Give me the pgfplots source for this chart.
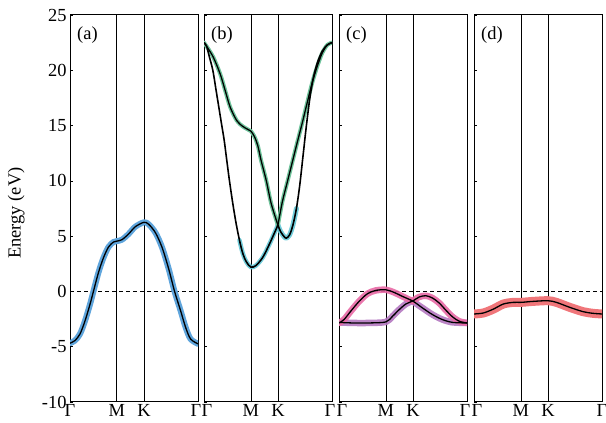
\documentclass[border=0pt]{standalone}
\usepackage{fontspec}
\setmainfont{Liberation Serif}
\usepackage{pgfplots}
\pgfplotsset{compat=1.18}
\definecolor{cA}{RGB}{95,165,220}
\definecolor{cBg}{RGB}{110,195,155}
\definecolor{cBc}{RGB}{100,200,215}
\definecolor{cCp}{RGB}{232,105,165}
\definecolor{cCv}{RGB}{180,120,192}
\definecolor{cD}{RGB}{240,118,122}
\pgfplotsset{
  panel/.style={
    width=128bp, height=387bp, scale only axis, anchor=south west,
    xmin=0, xmax=1, ymin=-10, ymax=25,
    xtick={0,0.366,0.5774,1},
    xmajorgrids, major grid style={black, line width=0.7bp},
    major x tick style={draw=none},
    ytick={-10,-5,...,25}, ytick pos=left, tick align=inside,
    major tick length=3bp, major y tick style={black, line width=0.7bp},
    axis line style={black, line width=1bp},
    tick label style={font=\fontsize{18.5}{20}\selectfont},
    /pgf/number format/assume math mode=true,
    xticklabel style={yshift=1bp},
    label style={font=\fontsize{18.5}{20}\selectfont},
  },
  fat/.style={line width=#1, line cap=round, line join=round, smooth},
  thin/.style={black, line width=1.3bp, smooth},
  zero/.style={black, dashed, line width=0.8bp, dash pattern=on 4bp off 3bp},
}
\newcommand{\plabel}[1]{\node[anchor=north west, inner sep=0pt, font=\fontsize{18.5}{20}\selectfont] at ([xshift=7bp,yshift=-12bp]rel axis cs:0,1) {#1};}
\begin{document}
\begin{tikzpicture}
\useasboundingbox (0,0) rectangle (606bp,423bp);
% (a)
\begin{axis}[panel, at={(70bp,21bp)},
  xticklabels={Γ,M,K,{Γ\hspace*{4bp}}},
  ylabel={Energy (eV)}, ylabel style={at={(axis description cs:-0.42,0.488)}, anchor=center}]
\addplot[zero] coordinates {(0,0) (1,0)};
\addplot[fat=6bp, cA] coordinates {
(0,-4.68) (0.039,-4.44) (0.0785,-3.84) (0.118,-2.64) (0.157,-1.14) (0.183,0) (0.2225,1.71) (0.262,3.06) (0.301,4.02) (0.340,4.47) (0.366,4.55) (0.406,4.68) (0.458,5.2) (0.510,5.85) (0.5774,6.25) (0.615,6.07) (0.668,5.3) (0.720,3.96) (0.772,2.0) (0.817,0) (0.864,-1.74) (0.903,-3.24) (0.942,-4.3) (1,-4.74)};
\addplot[thin] coordinates {
(0,-4.68) (0.039,-4.44) (0.0785,-3.84) (0.118,-2.64) (0.157,-1.14) (0.183,0) (0.2225,1.71) (0.262,3.06) (0.301,4.02) (0.340,4.47) (0.366,4.55) (0.406,4.68) (0.458,5.2) (0.510,5.85) (0.5774,6.25) (0.615,6.07) (0.668,5.3) (0.720,3.96) (0.772,2.0) (0.817,0) (0.864,-1.74) (0.903,-3.24) (0.942,-4.3) (1,-4.74)};
\plabel{(a)}
\end{axis}
% (b)
\begin{axis}[panel, at={(204bp,21bp)}, yticklabels={},
  xticklabels={{\hspace*{6bp}Γ},M,K,{Γ\hspace*{4bp}}}]
\addplot[zero] coordinates {(0,0) (1,0)};
% lower band fat (cyan)
\addplot[fat=4.5bp, cBc, opacity=0.9] coordinates {(0.277,4.64) (0.303,3.44) (0.33,2.69) (0.366,2.2) (0.407,2.35) (0.46,3.1) (0.512,4.3) (0.5774,6.0)};
\addplot[fat=5bp, cBc, opacity=0.9] coordinates {(0.5774,6.0) (0.599,5.4) (0.625,4.97) (0.643,4.82) (0.669,5.12) (0.695,6.02) (0.722,7.5)};
% upper band fat (green)
\addplot[fat=4bp, cBg] coordinates {(0,22.5) (0.03,22.0) (0.074,21.15) (0.127,19.65) (0.166,18.15) (0.205,16.65) (0.256,15.45) (0.30,14.95) (0.335,14.7) (0.366,14.5) (0.394,14.0) (0.420,13.2) (0.446,11.85) (0.486,10.05) (0.525,7.95) (0.5774,6.0)};
\addplot[fat=4bp, cBg] coordinates {(0.5774,6.0) (0.612,8.1) (0.651,9.9) (0.69,11.7) (0.729,13.5) (0.769,15.3) (0.807,17.1) (0.846,18.9) (0.886,20.4) (0.925,21.6) (0.964,22.3) (1,22.5)};
% thin lines
\addplot[thin] coordinates {(0,22.5) (0.03,22.0) (0.074,21.15) (0.127,19.65) (0.166,18.15) (0.205,16.65) (0.256,15.45) (0.30,14.95) (0.335,14.7) (0.366,14.5) (0.394,14.0) (0.420,13.2) (0.446,11.85) (0.486,10.05) (0.525,7.95) (0.5774,6.0)};
\addplot[thin] coordinates {(0.5774,6.0) (0.612,8.1) (0.651,9.9) (0.69,11.7) (0.729,13.5) (0.769,15.3) (0.807,17.1) (0.846,18.9) (0.886,20.4) (0.925,21.6) (0.964,22.3) (1,22.5)};
\addplot[thin, line width=1.6bp] coordinates {(0,22.5) (0.02,22.2) (0.04,21.3) (0.069,20.0) (0.095,18.15) (0.116,16.65) (0.139,15.0) (0.158,13.65) (0.178,11.85) (0.199,10.0) (0.225,7.95) (0.251,6.14) (0.277,4.64) (0.303,3.44) (0.33,2.69) (0.366,2.2) (0.407,2.35) (0.46,3.1) (0.512,4.3) (0.5774,6.0)};
\addplot[thin, line width=1.6bp] coordinates {(0.5774,6.0) (0.599,5.4) (0.625,4.97) (0.643,4.82) (0.669,5.12) (0.695,6.02) (0.722,7.5) (0.748,9.6) (0.774,12.3) (0.800,15.0) (0.826,17.4) (0.852,19.2) (0.886,20.7) (0.925,21.75) (0.964,22.3) (1,22.5)};
\plabel{(b)}
\end{axis}
% (c)
\begin{axis}[panel, at={(339bp,21bp)}, yticklabels={},
  xticklabels={{\hspace*{6bp}Γ},M,K,{Γ\hspace*{4bp}}}]
\addplot[zero] coordinates {(0,0) (1,0)};
\addplot[fat=6.5bp, cCv, opacity=0.9] coordinates {(0,-2.8) (0.104,-2.85) (0.235,-2.85) (0.366,-2.76) (0.418,-2.25) (0.47,-1.65) (0.522,-1.14) (0.5774,-0.84)};
\addplot[fat=6.5bp, cCv, opacity=0.9] coordinates {(0.5774,-0.9) (0.653,-1.5) (0.731,-2.1) (0.809,-2.55) (0.888,-2.8) (1,-2.85)};
\addplot[fat=6.5bp, cCp, opacity=0.9] coordinates {(0,-2.85) (0.039,-2.55) (0.091,-1.8) (0.157,-0.9) (0.222,-0.21) (0.287,0.09) (0.366,0.15) (0.431,-0.09) (0.496,-0.45) (0.5774,-0.9)};
\addplot[fat=6.5bp, cCp, opacity=0.9] coordinates {(0.5774,-0.84) (0.627,-0.5) (0.679,-0.39) (0.731,-0.6) (0.783,-1.05) (0.836,-1.71) (0.888,-2.31) (0.94,-2.7) (1,-2.85)};
\addplot[thin] coordinates {(0,-2.85) (0.039,-2.55) (0.091,-1.8) (0.157,-0.9) (0.222,-0.21) (0.287,0.09) (0.366,0.15) (0.431,-0.09) (0.496,-0.45) (0.5774,-0.88) (0.653,-1.5) (0.731,-2.1) (0.809,-2.55) (0.888,-2.8) (1,-2.85)};
\addplot[thin] coordinates {(0,-2.8) (0.104,-2.85) (0.235,-2.85) (0.366,-2.76) (0.418,-2.25) (0.47,-1.65) (0.522,-1.14) (0.5774,-0.86) (0.627,-0.5) (0.679,-0.39) (0.731,-0.6) (0.783,-1.05) (0.836,-1.71) (0.888,-2.31) (0.94,-2.7) (1,-2.85)};
\plabel{(c)}
\end{axis}
% (d)
\begin{axis}[panel, at={(474bp,21bp)}, yticklabels={},
  xticklabels={{\hspace*{6bp}Γ},M,K,Γ}]
\addplot[zero] coordinates {(0,0) (1,0)};
\addplot[fat=9bp, cD] coordinates {(0,-2.04) (0.073,-1.95) (0.151,-1.6) (0.229,-1.14) (0.306,-0.99) (0.366,-0.99) (0.462,-0.9) (0.5774,-0.84) (0.644,-0.99) (0.748,-1.44) (0.852,-1.83) (0.93,-1.98) (1,-2.04)};
\addplot[thin] coordinates {(0,-2.04) (0.073,-1.95) (0.151,-1.6) (0.229,-1.14) (0.306,-0.99) (0.366,-0.99) (0.462,-0.9) (0.5774,-0.84) (0.644,-0.99) (0.748,-1.44) (0.852,-1.83) (0.93,-1.98) (1,-2.04)};
\plabel{(d)}
\end{axis}
\end{tikzpicture}
\end{document}
